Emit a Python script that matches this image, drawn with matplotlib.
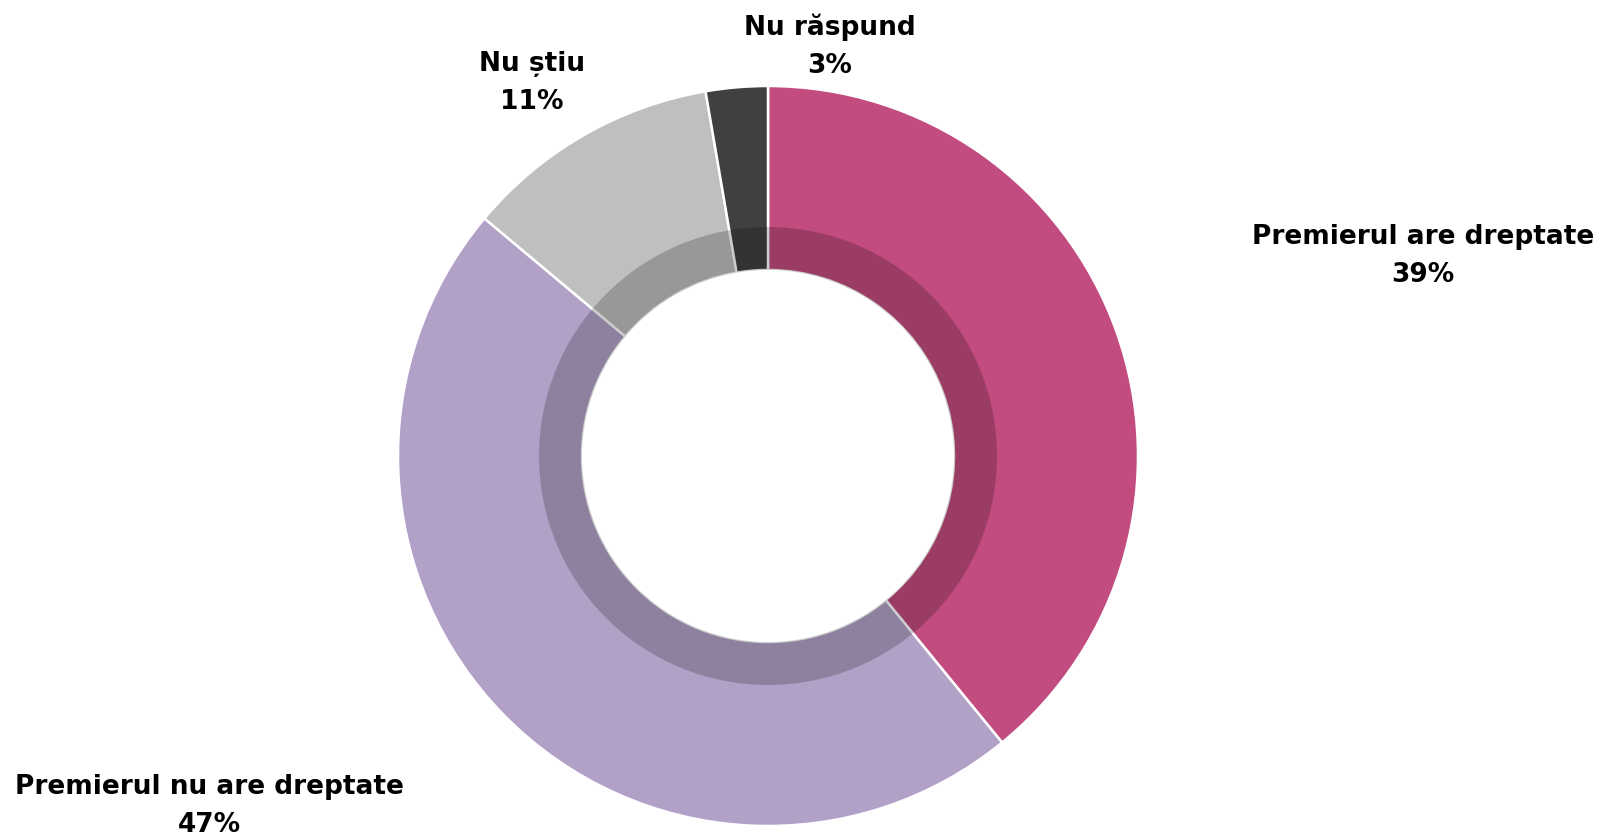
import matplotlib
matplotlib.use("Agg")
import matplotlib.pyplot as plt
from matplotlib.patches import Wedge

categories = ["Premierul are dreptate", "Premierul nu are dreptate", "Nu știu", "Nu răspund"]
# unrounded shares; labels show the rounded percentages
shares = [39.1, 47.0, 11.2, 2.7]
labels = [39, 47, 11, 3]
colors = ["#C24B7F", "#B2A1C7", "#BFBFBF", "#404040"]

# label centres in pixel coords (x, y from top)
label_pos = [(1423, 256), (209, 806), (532, 83), (830, 46)]

W, H = 1600, 835
CX, CY = 768, 456
R_OUT, R_BAND, R_IN = 370, 229, 186

fig = plt.figure(figsize=(W / 100, H / 100), dpi=100)
ax = fig.add_axes([0, 0, 1, 1])

ax.pie(shares, colors=colors, startangle=90, counterclock=False,
       center=(CX, H - CY), radius=R_OUT, frame=True,
       wedgeprops={"width": R_OUT - R_IN, "edgecolor": "white", "linewidth": 1.8})
ax.set_xlim(0, W)
ax.set_ylim(0, H)
ax.set_aspect("equal")
ax.axis("off")

# inner shadow band
ax.add_patch(Wedge((CX, H - CY), R_BAND, 0, 360, width=R_BAND - R_IN,
                   facecolor="black", alpha=0.2, linewidth=0))

for name, val, (x, y) in zip(categories, labels, label_pos):
    ax.text(x, H - y, f"{name}\n{val}%", ha="center", va="center",
            fontsize=19, fontweight="bold", color="black", linespacing=1.6,
            family="DejaVu Sans")

fig.savefig("out.png", dpi=100)
